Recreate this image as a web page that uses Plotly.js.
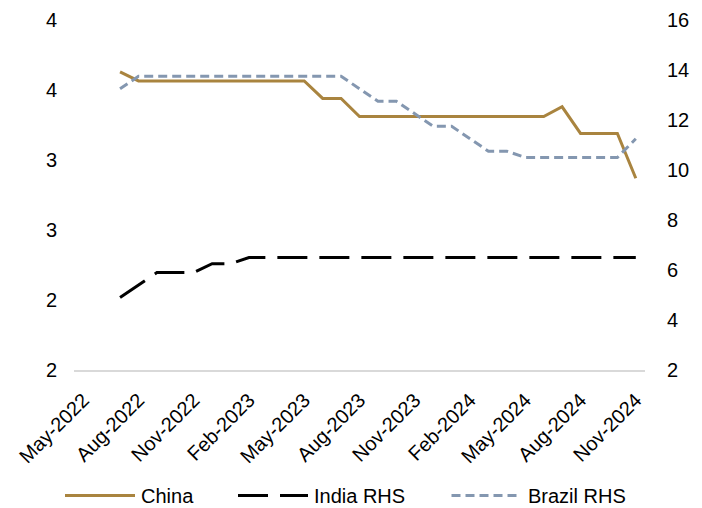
<!DOCTYPE html>
<html>
<head>
<meta charset="utf-8">
<script src="https://cdn.plot.ly/plotly-3.0.1.min.js"></script>
<style>html,body{margin:0;padding:0;background:#fff;}#chart{width:702px;height:508px;}</style>
</head>
<body>
<div id="chart"></div>
<script>
const months = ["May-2022","Jun-2022","Jul-2022","Aug-2022","Sep-2022","Oct-2022","Nov-2022","Dec-2022",
  "Jan-2023","Feb-2023","Mar-2023","Apr-2023","May-2023","Jun-2023","Jul-2023","Aug-2023","Sep-2023","Oct-2023","Nov-2023","Dec-2023",
  "Jan-2024","Feb-2024","Mar-2024","Apr-2024","May-2024","Jun-2024","Jul-2024","Aug-2024","Sep-2024","Oct-2024","Nov-2024"];
const tickLabels = ["May-2022","Aug-2022","Nov-2022","Feb-2023","May-2023","Aug-2023","Nov-2023","Feb-2024","May-2024","Aug-2024","Nov-2024"];
const china  = [null,null,3.63,3.565,3.565,3.565,3.565,3.565,3.565,3.565,3.565,3.565,3.565,3.44,3.44,3.31,3.31,3.31,3.31,3.31,3.31,3.31,3.31,3.31,3.31,3.31,3.38,3.19,3.19,3.19,2.87];
const india  = [null,null,4.9,5.4,5.9,5.9,5.9,6.25,6.25,6.5,6.5,6.5,6.5,6.5,6.5,6.5,6.5,6.5,6.5,6.5,6.5,6.5,6.5,6.5,6.5,6.5,6.5,6.5,6.5,6.5,6.5];
const brazil = [null,null,13.25,13.75,13.75,13.75,13.75,13.75,13.75,13.75,13.75,13.75,13.75,13.75,13.75,13.25,12.75,12.75,12.25,11.75,11.75,11.25,10.75,10.75,10.5,10.5,10.5,10.5,10.5,10.5,11.25];
const leftTickVals = [1.5,2,2.5,3,3.5,4];
const leftTickText = ["2","2","3","3","4","4"];
const seriesNames = ["China","India RHS","Brazil RHS"];

const FONT = "Liberation Sans, Arial, sans-serif";
const styles = [
  {color: "#A9843F", width: 3, dash: "solid"},
  {color: "#000000", width: 3, dash: "30px,12px"},
  {color: "#8497B0", width: 3, dash: "9px,5px"}
];
const traces = [
  {x: months, y: china, name: seriesNames[0], type: "scatter", mode: "lines", yaxis: "y", line: styles[0]},
  {x: months, y: india, name: seriesNames[1], type: "scatter", mode: "lines", yaxis: "y2", line: styles[1]},
  {x: months, y: brazil, name: seriesNames[2], type: "scatter", mode: "lines", yaxis: "y2", line: styles[2]}
];

// custom legend (paper coordinates; plot area spans 74..645 px horizontally, 20..370 px vertically)
const W = 571, H = 350, L = 74, B = 370;
const px = v => (v - L) / W;
const py = v => (B - v) / H;
const legY = 495.5;
const legSampleStart = [65, 238, 451.5];
const legSampleLen = 70;
const legTextGap = 4;
const shapes = [], annotations = [];
seriesNames.forEach((n, i) => {
  shapes.push({type: "line", xref: "paper", yref: "paper",
    x0: px(legSampleStart[i]), x1: px(legSampleStart[i] + legSampleLen), y0: py(legY), y1: py(legY),
    line: {color: styles[i].color, width: styles[i].width, dash: styles[i].dash}});
  annotations.push({xref: "paper", yref: "paper", x: px(legSampleStart[i] + legSampleLen + legTextGap), y: py(legY),
    xanchor: "left", yanchor: "middle", text: n, showarrow: false,
    font: {family: FONT, size: 20, color: "#000"}});
});

const layout = {
  width: 702, height: 508,
  margin: {l: 74, r: 57, t: 20, b: 138, autoexpand: false},
  paper_bgcolor: "#fff", plot_bgcolor: "#fff",
  font: {family: FONT, size: 20, color: "#000"},
  showlegend: false,
  shapes: shapes, annotations: annotations,
  xaxis: {type: "category", range: [-0.5, 30.5], tickmode: "array", tickvals: tickLabels, ticktext: tickLabels,
          tickangle: -45, showgrid: false, zeroline: false, showline: true, linecolor: "#D9D9D9", linewidth: 1.5,
          ticks: "", automargin: false, ticklabelstandoff: 9, tickfont: {family: FONT, size: 20, color: "#000"}},
  yaxis: {range: [1.5, 4.0], tickmode: "array", tickvals: leftTickVals, ticktext: leftTickText, automargin: false,
          showgrid: false, zeroline: false, showline: false, ticks: "", ticklabelstandoff: 16,
          tickfont: {family: FONT, size: 20, color: "#000"}},
  yaxis2: {range: [2, 16], dtick: 2, tick0: 2, overlaying: "y", side: "right", showgrid: false, zeroline: false,
           showline: false, ticks: "", ticklabelstandoff: 21, automargin: false,
           tickfont: {family: FONT, size: 20, color: "#000"}}
};
Plotly.newPlot("chart", traces, layout, {displayModeBar: false, staticPlot: true});
</script>
</body>
</html>
